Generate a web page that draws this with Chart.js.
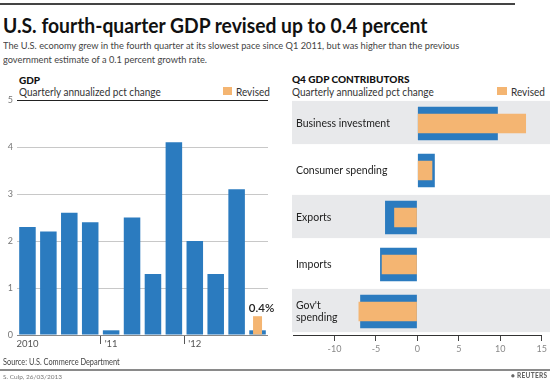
<!DOCTYPE html>
<html>
<head>
<meta charset="utf-8">
<script src="https://cdn.jsdelivr.net/npm/chart.js@4.4.1/dist/chart.umd.min.js"></script>
<style>
  html, body { margin: 0; padding: 0; background: #fff; }
  body { width: 550px; height: 381px; position: relative; overflow: hidden; font-family: Lato, "Noto Sans", sans-serif; }
  canvas { position: absolute; left: 0; top: 0; }
  .t { position: absolute; white-space: nowrap; line-height: 1; transform-origin: 0 0; }
  .line { position: absolute; }
  .sq { position: absolute; background: #f4b572; }
</style>
</head>
<body>
<div class="line" style="left:0;top:3px;width:515px;height:2px;background:#444"></div>
<div class="t" style="left:3px;top:15px;font-size:20.5px;font-weight:700;color:#111;transform:scaleX(0.94)">U.S. fourth-quarter GDP revised up to 0.4 percent</div>
<div class="t" style="left:3px;top:40px;font-size:10px;color:#444;transform:scaleX(0.925)">The U.S. economy grew in the fourth quarter at its slowest pace since Q1 2011, but was higher than the previous</div>
<div class="t" style="left:3px;top:54px;font-size:10px;color:#444;transform:scaleX(0.925)">government estimate of a 0.1 percent growth rate.</div>

<div class="t" style="left:19px;top:75px;font-size:10px;font-weight:900;color:#111">GDP</div>
<div class="t" style="left:19px;top:86px;font-size:11px;color:#333;transform:scaleX(0.91)">Quarterly annualized pct change</div>
<div class="sq" style="left:223px;top:87px;width:9px;height:8px"></div>
<div class="t" style="left:236px;top:86px;font-size:11px;color:#333;transform:scaleX(0.91)">Revised</div>

<div class="t" style="left:292px;top:74px;font-size:10px;font-weight:900;color:#111">Q4 GDP CONTRIBUTORS</div>
<div class="t" style="left:292px;top:86px;font-size:11px;color:#333;transform:scaleX(0.91)">Quarterly annualized pct change</div>
<div class="sq" style="left:497px;top:87px;width:10px;height:8px"></div>
<div class="t" style="left:511px;top:86px;font-size:11px;color:#333;transform:scaleX(0.91)">Revised</div>

<canvas id="gdp" width="550" height="381"></canvas>
<canvas id="contrib" width="550" height="381"></canvas>

<div class="t" style="left:3px;top:357px;font-size:9px;color:#444;transform:scaleX(0.82)">Source: U.S. Commerce Department</div>
<div class="line" style="left:0;top:369px;width:550px;height:2px;background:#8a8a8a"></div>
<div class="t" style="left:3px;top:374px;font-size:6.5px;color:#777">S. Culp, 26/03/2013</div>
<div class="t" style="left:511px;top:373px;font-size:6.5px;font-weight:900;color:#666;letter-spacing:0.3px">&#9679; REUTERS</div>

<script>
// ---------- data ----------
const gdpTickLabels = ['2010', '', '', '', "'11", '', '', '', "'12", '', '', ''];
const gdpValues     = [2.3, 2.2, 2.6, 2.4, 0.1, 2.5, 1.3, 4.1, 2.0, 1.3, 3.1, 0.1];
const gdpRevised    = [null, null, null, null, null, null, null, null, null, null, null, 0.4];
const gdpYTicks     = [0, 1, 2, 3, 4, 5];

const contribCategories = ['Business investment', 'Consumer spending', 'Exports', 'Imports', ["Gov't", 'spending']];
const contribAdvance    = [9.7, 2.1, -3.9, -4.5, -6.9];
const contribRevised    = [13.1, 1.8, -2.8, -4.3, -7.1];
const contribXTicks     = [-15, -10, -5, 0, 5, 10, 15];

const BLUE = '#2b7bbf';
const ORANGE = '#f4b572';
const FONT = 'Lato';

// ---------- left chart ----------
const revisedLabel = {
  id: 'revisedLabel',
  afterDatasetsDraw(chart) {
    const meta = chart.getDatasetMeta(0);
    const ctx = chart.ctx;
    meta.data.forEach((el, i) => {
      const v = chart.data.datasets[0].data[i];
      if (v == null) return;
      ctx.save();
      ctx.fillStyle = '#222';
      ctx.font = '600 11.5px ' + FONT;
      ctx.textAlign = 'center';
      ctx.textBaseline = 'bottom';
      ctx.fillText(v.toFixed(1) + '%', el.x + 4, el.y - 2);
      ctx.restore();
    });
  }
};

new Chart(document.getElementById('gdp'), {
  type: 'bar',
  data: {
    labels: gdpTickLabels,
    datasets: [
      { label: 'Revised', data: gdpRevised, backgroundColor: ORANGE, barPercentage: 0.43, categoryPercentage: 1, grouped: false, order: 0 },
      { label: 'GDP', data: gdpValues, backgroundColor: BLUE, barPercentage: 0.79, categoryPercentage: 1, grouped: false, order: 1 }
    ]
  },
  options: {
    responsive: false, animation: false, devicePixelRatio: 1,
    layout: { padding: { left: 0, right: 282, top: 100, bottom: 26 } },
    plugins: { legend: { display: false }, tooltip: { enabled: false } },
    scales: {
      x: {
        grid: {
          offset: true, drawOnChartArea: false, drawTicks: true, tickLength: 9,
          color: (c) => (c.index === 4 || c.index === 8) ? '#555' : 'rgba(0,0,0,0)'
        },
        border: { display: false },
        ticks: { autoSkip: false, maxRotation: 0, padding: -6, color: '#555', font: { family: FONT, size: 9.5 } },
        afterFit: (s) => { s.height = 20; }
      },
      y: {
        min: 0, max: 5,
        afterBuildTicks: (s) => { s.ticks = gdpYTicks.map(v => ({ value: v })); },
        grid: {
          drawTicks: false,
          color: (c) => c.tick && c.tick.value === 5 ? '#222' : (c.tick && c.tick.value === 0 ? '#888' : '#c8c8c8')
        },
        border: { display: false },
        ticks: { padding: 4, color: '#777', font: { family: FONT, size: 9 } },
        afterFit: (s) => { s.width = 17; }
      }
    }
  },
  plugins: [revisedLabel]
});

// ---------- right chart ----------
const bands = {
  id: 'bands',
  beforeDraw(chart) {
    const y = chart.scales.y, a = chart.chartArea, ctx = chart.ctx;
    const step = y.getPixelForValue(1) - y.getPixelForValue(0);
    ctx.save();
    ctx.fillStyle = '#e8e9eb';
    for (let i = 0; i < contribCategories.length; i += 2) {
      const yc = y.getPixelForValue(i);
      const h = step * 0.92;
      ctx.fillRect(a.left - 1, yc - h / 2 - 1, chart.width - a.left + 1, h);
    }
    ctx.restore();
  }
};

new Chart(document.getElementById('contrib'), {
  type: 'bar',
  data: {
    labels: contribCategories,
    datasets: [
      { label: 'Revised', data: contribRevised, backgroundColor: ORANGE, barPercentage: 0.41, categoryPercentage: 1, grouped: false, order: 0 },
      { label: 'Advance', data: contribAdvance, backgroundColor: BLUE, barPercentage: 0.71, categoryPercentage: 1, grouped: false, order: 1 }
    ]
  },
  options: {
    indexAxis: 'y',
    responsive: false, animation: false, devicePixelRatio: 1,
    layout: { padding: { left: 293, right: 5, top: 100, bottom: 26 } },
    plugins: { legend: { display: false }, tooltip: { enabled: false } },
    scales: {
      x: {
        type: 'linear', min: -15, max: 15,
        afterBuildTicks: (s) => { s.ticks = contribXTicks.map(v => ({ value: v })); },
        grid: { drawOnChartArea: false, tickLength: 6, color: (c) => c.tick && c.tick.value === -15 ? 'rgba(0,0,0,0)' : '#444' },
        border: { display: true, color: '#333' },
        ticks: { padding: 3, color: '#888', font: { family: FONT, size: 9 }, callback: (v) => v === -15 ? '' : String(v) },
        afterFit: (s) => { s.height = 20; }
      },
      y: {
        grid: { display: false },
        border: { display: false },
        ticks: { mirror: true, padding: 3, color: '#222', font: { family: FONT, size: 10.5 } },
        afterFit: (s) => { s.width = 0; }
      }
    }
  },
  plugins: [bands]
});
</script>
</body>
</html>
